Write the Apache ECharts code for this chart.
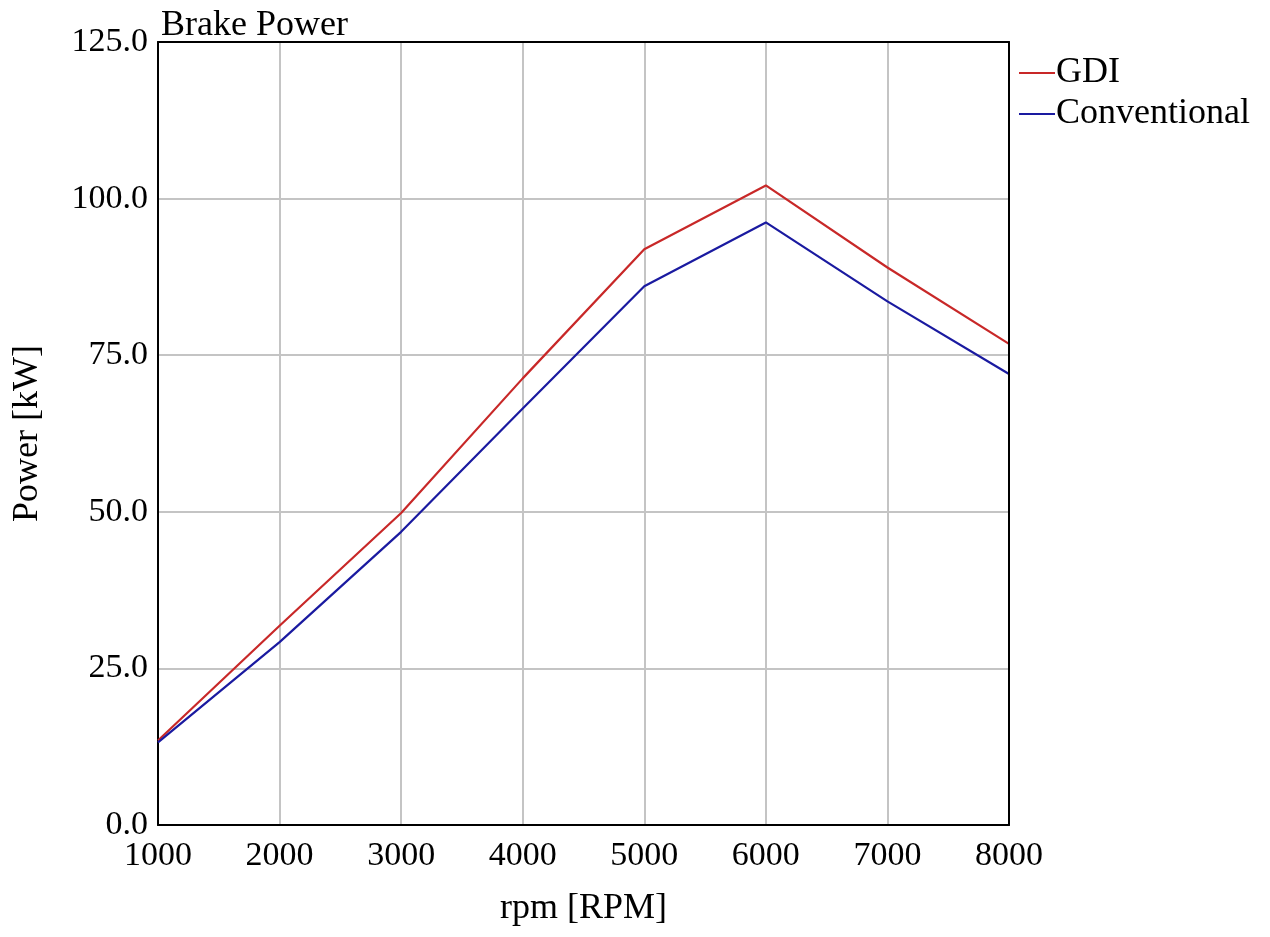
<!DOCTYPE html>
<html><head><meta charset="utf-8">
<script src="https://cdn.jsdelivr.net/npm/echarts@6/dist/echarts.min.js"></script>
<style>html,body{margin:0;padding:0;background:#fff}#c{width:1270px;height:937px}</style>
</head><body><div id="c"></div>
<script>
const rpm = [1000, 2000, 3000, 4000, 5000, 6000, 7000, 8000];
const gdi = [13.5, 31.8, 49.8, 71.3, 91.9, 102.1, 89.0, 76.8];
const conventional = [13.2, 29.2, 46.8, 66.5, 86.0, 96.2, 83.6, 72.0];
const seriesNames = ['GDI', 'Conventional'];
const FONT = '"Liberation Serif", "Times New Roman", serif';

const frameAxis = {
  show: true, z: 10, axisLine: {show: true, onZero: false, lineStyle: {color: '#000', width: 2}},
  axisTick: {show: false}, axisLabel: {show: false}, splitLine: {show: false}
};

const chart = echarts.init(document.getElementById('c'), null, {renderer: 'canvas'});
chart.setOption({
  animation: false,
  backgroundColor: '#fff',
  textStyle: {fontFamily: FONT, color: '#000'},
  title: {
    text: 'Brake Power', left: 156, top: 3,
    textStyle: {fontFamily: FONT, fontSize: 36, fontWeight: 'normal', color: '#000'}
  },
  legend: {
    data: seriesNames, orient: 'vertical', left: 1014, top: 50,
    icon: 'rect', itemWidth: 36, itemHeight: 2, itemGap: 5,
    textStyle: {fontFamily: FONT, fontSize: 36, color: '#000', padding: [0,0,0,-4]}
  },
  grid: {left: 158, right: 261, top: 42, bottom: 112},
  xAxis: [{
    type: 'value', min: 1000, max: 8000, interval: 1000,
    name: 'rpm [RPM]', nameLocation: 'middle', nameGap: 66,
    nameTextStyle: {fontFamily: FONT, fontSize: 36, color: '#000'},
    axisLine: {onZero: false, lineStyle: {color: '#000', width: 2}},
    axisTick: {show: false},
    axisLabel: {fontFamily: FONT, fontSize: 34, color: '#000', margin: 14,
      formatter: v => String(v)},
    splitLine: {showMinLine: false, showMaxLine: false, lineStyle: {color: '#c4c4c4', width: 2}}
  }, Object.assign({type: 'value', position: 'top', min: 1000, max: 8000}, frameAxis)],
  yAxis: [{
    type: 'value', min: 0, max: 125, interval: 25,
    name: 'Power [kW]', nameLocation: 'middle', nameGap: 112,
    nameTextStyle: {fontFamily: FONT, fontSize: 36, color: '#000'},
    axisLine: {show: true, onZero: false, lineStyle: {color: '#000', width: 2}},
    axisTick: {show: false},
    axisLabel: {fontFamily: FONT, fontSize: 34, color: '#000', margin: 10,
      formatter: v => v.toFixed(1)},
    splitLine: {showMinLine: false, showMaxLine: false, lineStyle: {color: '#c4c4c4', width: 2}}
  }, Object.assign({type: 'value', position: 'right', min: 0, max: 125}, frameAxis)],
  series: [
    {name: seriesNames[0], type: 'line', symbol: 'none', color: '#c82828', z: 3,
     lineStyle: {width: 2.2}, data: rpm.map((r, i) => [r, gdi[i]])},
    {name: seriesNames[1], type: 'line', symbol: 'none', color: '#1a1aa0', z: 3,
     lineStyle: {width: 2.2}, data: rpm.map((r, i) => [r, conventional[i]])}
  ]
});
</script>
</body></html>
